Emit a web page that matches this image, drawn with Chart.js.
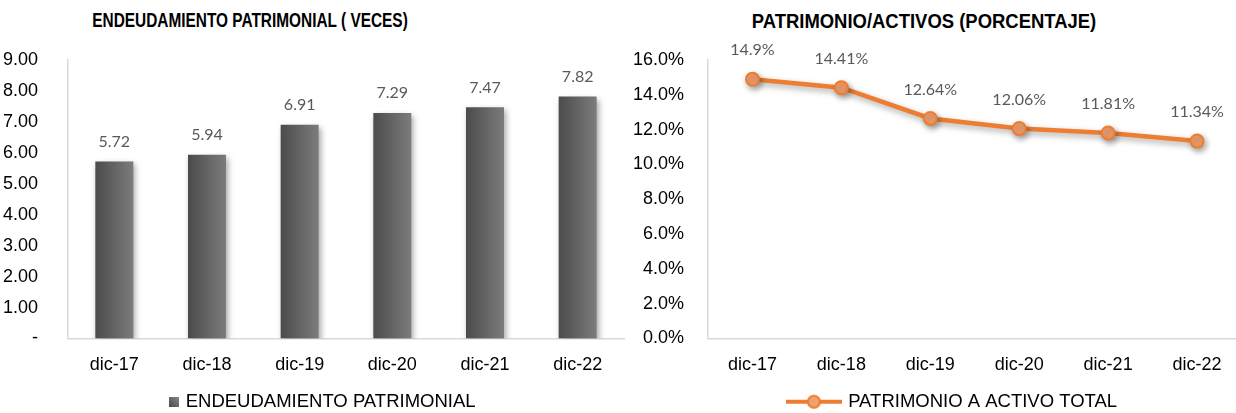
<!DOCTYPE html>
<html>
<head>
<meta charset="utf-8">
<script src="https://cdn.jsdelivr.net/npm/chart.js@4.4.1/dist/chart.umd.min.js"></script>
<style>
  html, body { margin: 0; padding: 0; background: #fff; overflow: hidden; width: 1236px; height: 413px; }
  .ttl { position: absolute; font-family: "Liberation Sans", Arial, sans-serif; font-weight: bold;
         color: #000; white-space: nowrap; }
  canvas { position: absolute; top: 0; }
</style>
</head>
<body>
<div class="ttl" style="left:250px;top:8px;font-size:19.5px;line-height:24px;transform:translateX(-50%) scaleX(0.79)">ENDEUDAMIENTO PATRIMONIAL ( VECES)</div>
<div class="ttl" style="left:924px;top:9px;font-size:20.5px;line-height:24px;transform:translateX(-50%) scaleX(0.9)">PATRIMONIO/ACTIVOS (PORCENTAJE)</div>
<canvas id="left" width="630" height="421" style="left:0"></canvas>
<canvas id="right" width="620" height="421" style="left:630px"></canvas>
<script>
// ── Data ───────────────────────────────────────────────────────────────
const periods = ['dic-17', 'dic-18', 'dic-19', 'dic-20', 'dic-21', 'dic-22'];
const endeudamiento = [5.72, 5.94, 6.91, 7.29, 7.47, 7.82];
const patrimonioActivos = [14.9, 14.41, 12.64, 12.06, 11.81, 11.34];
const leftTickMax = 9;
const rightTickMax = 16;

const TICK_FONT = { family: '"Liberation Sans", Arial, sans-serif', size: 18 };
const LEGEND_FONT = { family: '"Liberation Sans", Arial, sans-serif', size: 18.5 };
const LABEL_FONT = '16px Lato, "Open Sans", sans-serif';
const ORANGE = '#ED7D31';
const ORANGE_FILL = '#F3A06F';

// Bar fill: dark-to-light gradient across each bar.
function barFill(ctx) {
  const chart = ctx.chart;
  const x = chart.scales && chart.scales.x;
  if (ctx.type !== 'data' || !x || !chart.chartArea) return '#666666';
  const cx = x.getPixelForValue(ctx.dataIndex);
  const g = chart.ctx.createLinearGradient(cx - 19, 0, cx + 19, 0);
  g.addColorStop(0, '#4b4b4b');
  g.addColorStop(1, '#7c7c7c');
  return g;
}

function legendSquare() {
  const c = document.createElement('canvas');
  c.width = 10; c.height = 10;
  const k = c.getContext('2d');
  const g = k.createLinearGradient(0, 10, 10, 0);
  g.addColorStop(0, '#4b4b4b');
  g.addColorStop(1, '#8a8a8a');
  k.fillStyle = g;
  k.fillRect(0, 0, 10, 10);
  return c;
}

function legendLine() {
  const c = document.createElement('canvas');
  c.width = 56; c.height = 16;
  const k = c.getContext('2d');
  k.strokeStyle = ORANGE; k.lineWidth = 4;
  k.beginPath(); k.moveTo(0, 8); k.lineTo(56, 8); k.stroke();
  k.beginPath(); k.arc(28, 8, 6, 0, Math.PI * 2);
  k.fillStyle = ORANGE_FILL; k.fill();
  k.lineWidth = 2; k.stroke();
  return c;
}

const shadow = {
  id: 'shadow',
  beforeDatasetDraw(chart) {
    const c = chart.ctx;
    c.save();
    c.shadowColor = 'rgba(0,0,0,0.35)';
    c.shadowBlur = 6;
    c.shadowOffsetX = 2;
    c.shadowOffsetY = 3;
  },
  afterDatasetDraw(chart) { chart.ctx.restore(); },
};

// Nudge the legend sideways (the original is not centred on the canvas).
function legendShift(dx) {
  return {
    id: 'legendShift',
    afterLayout(chart) {
      chart.legend.left += dx;
      chart.legend.right += dx;
    },
  };
}

// Value labels above each bar / point.
function valueLabels(fmt, offset) {
  return {
    id: 'valueLabels',
    afterDatasetsDraw(chart) {
      const ctx = chart.ctx;
      const values = chart.data.datasets[0].data;
      ctx.save();
      ctx.font = LABEL_FONT;
      ctx.fillStyle = '#595959';
      ctx.textAlign = 'center';
      ctx.textBaseline = 'middle';
      chart.getDatasetMeta(0).data.forEach((el, i) => {
        ctx.fillText(fmt(values[i]), el.x, el.y - offset);
      });
      ctx.restore();
    },
  };
}

function axes(yMax, step, yFmt, yWidth, yPad) {
  return {
    x: {
      offset: true,
      grid: { display: false },
      border: { display: true, color: '#d9d9d9', width: 1.5 },
      ticks: { color: '#000', font: TICK_FONT, padding: 8, maxRotation: 0 },
      afterFit: (s) => { s.height = 44; },
    },
    y: {
      min: 0, max: yMax,
      grid: { display: false },
      border: { display: true, color: '#d9d9d9', width: 1.5 },
      ticks: { stepSize: step, color: '#000', font: TICK_FONT, padding: yPad, callback: yFmt },
      afterFit: (s) => { s.width = yWidth; },
    },
  };
}

function legendOpts(img, w) {
  return {
    position: 'bottom',
    labels: {
      usePointStyle: true,
      pointStyleWidth: w,
      color: '#000',
      font: LEGEND_FONT,
      padding: 10,
      generateLabels: (chart) => [{
        text: chart.data.datasets[0].label,
        pointStyle: img,
        fillStyle: 'transparent',
        strokeStyle: 'transparent',
        lineWidth: 0,
        datasetIndex: 0,
      }],
    },
  };
}

new Chart(document.getElementById('left'), {
  type: 'bar',
  data: {
    labels: periods,
    datasets: [{
      label: 'ENDEUDAMIENTO PATRIMONIAL',
      data: endeudamiento,
      backgroundColor: barFill,
      categoryPercentage: 1,
      barPercentage: 0.41,
    }],
  },
  options: {
    responsive: false,
    animation: false,
    layout: { padding: { top: 60, left: 0, right: 6, bottom: 0 } },
    scales: axes(leftTickMax, 1, (v) => (v === 0 ? '-' : v.toFixed(2)), 68, 22),
    plugins: {
      legend: legendOpts(legendSquare(), 4),
      tooltip: { enabled: false },
    },
  },
  plugins: [shadow, legendShift(12), valueLabels((v) => v.toFixed(2), 20)],
});

new Chart(document.getElementById('right'), {
  type: 'line',
  data: {
    labels: periods,
    datasets: [{
      label: 'PATRIMONIO A ACTIVO TOTAL',
      data: patrimonioActivos,
      borderColor: ORANGE,
      borderWidth: 4.5,
      pointRadius: 6.5,
      pointBackgroundColor: ORANGE_FILL,
      pointBorderColor: ORANGE,
      pointBorderWidth: 2,
      tension: 0,
    }],
  },
  options: {
    responsive: false,
    animation: false,
    layout: { padding: { top: 60, left: 0, right: 6, bottom: 0 } },
    scales: axes(rightTickMax, 2, (v) => v.toFixed(1) + '%', 78, 16),
    plugins: {
      legend: legendOpts(legendLine(), 50),
      tooltip: { enabled: false },
    },
  },
  plugins: [shadow, legendShift(16), valueLabels((v) => v + '%', 29)],
});
</script>
</body>
</html>
